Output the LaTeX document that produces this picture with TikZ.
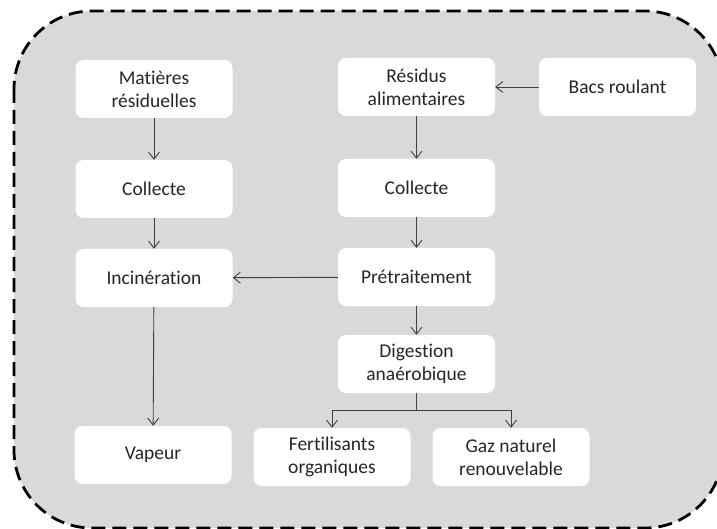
\documentclass[tikz,border=0pt]{standalone}
\usepackage{fontspec}
\setmainfont{Carlito}[RawFeature={-liga;-clig;-dlig}]
\usetikzlibrary{arrows.meta}
\definecolor{panelgray}{HTML}{D9D9D9}
\definecolor{inkgray}{HTML}{262626}
\definecolor{linegray}{HTML}{404040}
\tikzset{
  stepbox/.style={fill=white, rounded corners=8pt, minimum width=157pt,
    minimum height=58pt, inner sep=0pt, align=center,
    font=\fontsize{19.5}{23}\selectfont, text=inkgray},
  flow/.style={draw=linegray, line width=0.9pt,
    -{Straight Barb[length=7pt,width=11pt]}},
  link/.style={draw=linegray, line width=0.9pt},
}
\begin{document}
\begin{tikzpicture}[x=1pt,y=-1pt]
  \useasboundingbox (0,0) rectangle (717,529);
  % dashed outer panel
  \draw[fill=panelgray, dash pattern=on 14pt off 7pt, line width=2.8pt,
        rounded corners=78pt] (14,11) rectangle (723,528);

  % left chain
  \node[stepbox] (mat) at (154,89)  {Matières\\résiduelles};
  \node[stepbox] (col1) at (154,189) {Collecte};
  \node[stepbox] (inc) at (154,278) {Incinération};
  \node[stepbox] (vap) at (153,455) {Vapeur};

  % right chain
  \node[stepbox] (res) at (416.5,87)  {Résidus\\alimentaires};
  \node[stepbox] (bacs) at (617.5,87) {Bacs roulant};
  \node[stepbox] (col2) at (416.5,188) {Collecte};
  \node[stepbox] (pre) at (416.5,277) {Prétraitement};
  \node[stepbox] (dig) at (416.5,364) {Digestion\\anaérobique};
  \node[stepbox] (fer) at (332,457) {Fertilisants\\organiques};
  \node[stepbox] (gaz) at (511,457) {Gaz naturel\\renouvelable};

  % connectors
  \draw[flow] (mat) -- (col1);
  \draw[flow] (col1) -- (inc);
  \draw[flow] (inc) -- (vap);
  \draw[flow] (bacs) -- (res);
  \draw[flow] (res) -- (col2);
  \draw[flow] (col2) -- (pre);
  \draw[flow] (pre) -- (inc);
  \draw[flow] (pre) -- (dig);

  \coordinate (split) at (416.5,410);
  \draw[link] (dig.south) -- (split);
  \draw[flow] (split) -| (fer.north);
  \draw[flow] (split) -| (gaz.north);
\end{tikzpicture}
\end{document}
